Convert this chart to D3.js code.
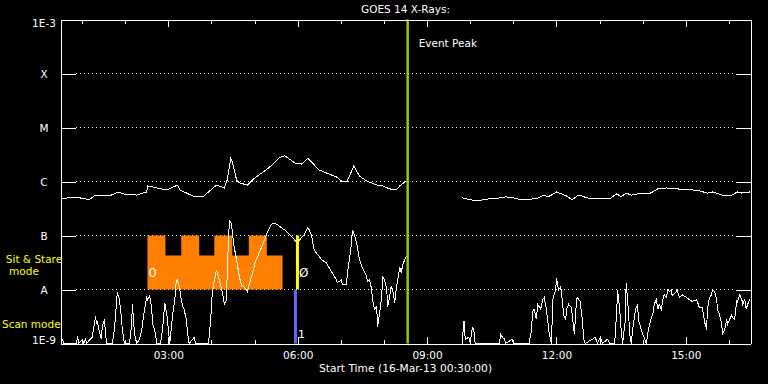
<!DOCTYPE html>
<html>
<head>
<meta charset="utf-8">
<script src="https://cdn.jsdelivr.net/npm/d3@7"></script>
<style>
    html, body { margin: 0; background: #000; }
    svg { display: block; font-family: "DejaVu Sans", sans-serif; }
</style>
</head>
<body>
<svg id="chart" width="768" height="384"></svg>
<script>
/* ── Data ─────────────────────────────────────────── */
const titleText  = "GOES 14 X-Rays:";
const axisTitle  = "Start Time (16-Mar-13 00:30:00)";
const timeDomain = ["00:30", "16:30"];

const levelTicks  = [1e-3, 1e-4, 1e-5, 1e-6, 1e-7, 1e-8, 1e-9];
const levelLabels = ["1E-3", "X", "M", "C", "B", "A", "1E-9"];
const gridLevels  = [1e-4, 1e-5, 1e-6, 1e-7, 1e-8];

// 1-8 Å channel (W/m²), null marks the data gap
const longChannel = [
    ["00:31",4.8e-7],["00:42",5.0e-7],["00:56",5.0e-7],["01:10",4.6e-7],["01:17",5.4e-7],["01:38",5.4e-7],
    ["01:51",6.4e-7],["01:56",5.9e-7],["02:16",5.6e-7],["02:30",6.4e-7],["02:31",8.3e-7],["02:44",7.6e-7],
    ["02:58",7.0e-7],["03:13",8.6e-7],["03:16",7.0e-7],["03:34",5.4e-7],["03:48",5.2e-7],["04:07",8.6e-7],
    ["04:18",7.6e-7],["04:22",1.07e-6],["04:27",2.7e-6],["04:29",2.3e-6],["04:35",1.07e-6],["04:39",9.4e-7],
    ["04:50",8.6e-7],["04:57",1.07e-6],["05:21",1.85e-6],["05:35",2.8e-6],["05:42",3.0e-6],["05:56",2.2e-6],
    ["06:05",2.1e-6],["06:09",2.3e-6],["06:14",2.7e-6],["06:19",2.3e-6],["06:30",1.63e-6],["06:40",1.44e-6],
    ["06:54",1.21e-6],["07:01",1.02e-6],["07:09",1.02e-6],["07:18",1.93e-6],["07:26",1.26e-6],["07:36",1.02e-6],
    ["07:50",8.6e-7],["07:58",8.3e-7],["08:08",7.3e-7],["08:17",7.0e-7],["08:22",8.3e-7],["08:29",9.8e-7],
    ["08:33",1.02e-6],
    ["09:00",null],
    ["09:49",5.0e-7],["09:59",4.6e-7],["10:10",4.4e-7],["10:27",4.8e-7],["10:44",5.0e-7],["10:50",5.2e-7],
    ["10:59",5.0e-7],["11:11",4.6e-7],["11:32",4.8e-7],["11:43",5.6e-7],["11:48",5.2e-7],["11:53",5.6e-7],
    ["12:00",6.4e-7],["12:07",5.9e-7],["12:14",5.4e-7],["12:22",4.6e-7],["12:29",5.4e-7],["12:32",5.6e-7],
    ["12:42",5.0e-7],["12:50",4.8e-7],["13:00",4.8e-7],["13:14",4.8e-7],["13:24",5.9e-7],["13:30",5.2e-7],
    ["13:37",6.1e-7],["13:44",5.6e-7],["13:53",5.9e-7],["14:09",5.9e-7],["14:21",7.3e-7],["14:33",7.6e-7],
    ["14:47",7.3e-7],["15:09",7.0e-7],["15:19",6.7e-7],["15:30",6.1e-7],["15:37",6.4e-7],["15:51",5.6e-7],
    ["16:04",5.6e-7],["16:12",6.4e-7],["16:18",6.1e-7],["16:29",6.4e-7]
];

// 0.5-4 Å channel (W/m²)
const shortChannel = [
    ["00:31",1.0e-9],["00:33",1.2e-9],["00:34",1.0e-9],["00:52",1.0e-9],["00:54",1.4e-9],["00:55",1.0e-9],
    ["01:01",1.2e-9],["01:02",1.0e-9],["01:05",1.2e-9],["01:06",1.0e-9],["01:14",1.3e-9],["01:19",3.2e-9],
    ["01:20",2.3e-9],["01:21",2.6e-9],["01:24",1.7e-9],["01:27",1.2e-9],["01:28",2.0e-9],["01:31",2.8e-9],
    ["01:34",1.0e-9],["01:42",1.0e-9],["01:45",1.8e-9],["01:49",8.8e-9],["01:52",6.5e-9],["01:55",2.8e-9],
    ["01:56",1.8e-9],["01:59",1.0e-9],["02:06",1.0e-9],["02:09",2.3e-9],["02:10",5.3e-9],["02:13",1.5e-9],
    ["02:16",1.0e-9],["02:20",1.2e-9],["02:23",1.8e-9],["02:27",4.3e-9],["02:30",7.4e-9],["02:31",6.5e-9],
    ["02:34",7.7e-9],["02:37",4.3e-9],["02:38",2.3e-9],["02:41",1.8e-9],["02:44",1.0e-9],["02:49",1.0e-9],
    ["02:52",1.8e-9],["02:55",5.7e-9],["02:58",3.4e-9],["03:02",1.0e-9],["03:06",3.4e-9],["03:09",6.5e-9],
    ["03:11",1.4e-8],["03:13",1.5e-8],["03:16",9.9e-9],["03:18",6.5e-9],["03:20",4.8e-9],["03:22",4.3e-9],
    ["03:25",2.8e-9],["03:27",1.5e-9],["03:29",1.0e-9],["03:36",1.3e-9],["03:38",1.0e-9],["03:56",1.0e-9],
    ["03:59",2.8e-9],["04:01",8.0e-9],["04:04",1.5e-8],["04:07",2.3e-8],["04:11",1.5e-8],["04:15",9.1e-9],
    ["04:18",5.3e-9],["04:21",6.5e-9],["04:22",2.3e-8],["04:25",1.95e-7],["04:28",1.6e-7],["04:31",6.7e-8],
    ["04:35",3.6e-8],["04:39",1.66e-8],["04:42",1.2e-8],["04:46",1.1e-8],["04:50",9.1e-9],["04:53",1.3e-8],
    ["04:57",2.0e-8],["05:01",3.3e-8],["05:04",4.0e-8],["05:10",6.2e-8],["05:14",8.3e-8],["05:18",1.17e-7],
    ["05:22",1.5e-7],["05:25",1.7e-7],["05:29",1.65e-7],["05:32",1.57e-7],["05:37",1.4e-7],["05:42",1.27e-7],
    ["05:46",1.12e-7],["05:53",9.1e-8],["05:58",7.6e-8],["06:03",8.3e-8],["06:05",9.1e-8],["06:09",1.03e-7],
    ["06:14",1.4e-7],["06:16",1.27e-7],["06:19",1.03e-7],["06:23",5.4e-8],["06:28",4.4e-8],["06:33",3.6e-8],
    ["06:37",3.3e-8],["06:40",3.1e-8],["06:44",2.5e-8],["06:48",2.05e-8],["06:54",1.5e-8],["06:55",1.34e-8],
    ["07:01",1.5e-8],["07:02",1.23e-8],["07:08",1.23e-8],["07:09",1.9e-8],["07:12",3.6e-8],["07:15",7.3e-8],
    ["07:16",1.27e-7],["07:19",1.03e-7],["07:23",6.2e-8],["07:26",3.6e-8],["07:30",2.5e-8],["07:36",1.73e-8],
    ["07:37",1.4e-8],["07:40",1.5e-8],["07:43",9.9e-9],["07:44",6.5e-9],["07:47",4.3e-9],["07:50",4.8e-9],
    ["07:51",2.0e-9],["07:54",3.7e-9],["07:57",7.4e-9],["07:58",1.73e-8],["08:01",1.5e-8],["08:04",9.9e-9],
    ["08:05",4.8e-9],["08:08",7.4e-9],["08:10",1.13e-8],["08:12",9.9e-9],["08:15",5.7e-9],["08:17",9.9e-9],
    ["08:22",2.6e-8],["08:24",2.05e-8],["08:26",2.8e-8],["08:29",3.6e-8],["08:31",4.0e-8],["08:33",4.4e-8],
    ["09:00",null],
    ["09:49",1.0e-9],["09:51",2.55e-9],["09:52",2.55e-9],["09:53",1.2e-9],["09:58",1.3e-9],["09:59",1.2e-9],
    ["10:00",1.0e-9],["10:03",2.0e-9],["10:05",1.8e-9],["10:07",1.0e-9],["10:41",1.0e-9],["10:42",1.5e-9],
    ["10:45",1.3e-9],["10:48",1.2e-9],["10:49",1.0e-9],["10:59",1.2e-9],["11:00",1.0e-9],["11:22",1.0e-9],
    ["11:25",1.7e-9],["11:27",3.9e-9],["11:29",4.3e-9],["11:32",2.8e-9],["11:34",5.3e-9],["11:38",4.3e-9],
    ["11:41",6.5e-9],["11:43",7.1e-9],["11:46",4.3e-9],["11:48",2.55e-9],["11:50",1.5e-9],["11:53",1.0e-9],
    ["11:55",6.5e-9],["11:56",7.4e-9],["11:59",9.9e-9],["12:00",1.6e-8],["12:03",9.9e-9],["12:06",1.13e-8],
    ["12:08",6.5e-9],["12:10",3.4e-9],["12:13",2.8e-9],["12:14",4.3e-9],["12:17",5.3e-9],["12:21",4.6e-9],
    ["12:22",3.4e-9],["12:25",1.5e-9],["12:28",6.5e-9],["12:29",7.1e-9],["12:33",6.0e-9],["12:36",2.8e-9],
    ["12:38",1.2e-9],["12:40",1.0e-9],["12:50",1.2e-9],["12:54",1.3e-9],["12:57",1.0e-9],["13:01",1.3e-9],
    ["13:04",1.0e-9],["13:11",1.2e-9],["13:14",1.0e-9],["13:21",1.0e-9],["13:24",4.3e-9],["13:25",9.9e-9],
    ["13:28",4.3e-9],["13:30",1.8e-9],["13:32",1.0e-9],["13:36",2.8e-9],["13:37",1.34e-8],["13:40",4.3e-9],
    ["13:42",1.5e-9],["13:44",1.0e-9],["13:46",1.8e-9],["13:50",4.3e-9],["13:53",5.3e-9],["13:54",2.8e-9],
    ["13:58",1.8e-9],["14:00",1.5e-9],["14:02",1.3e-9],["14:05",1.0e-9],["14:08",1.8e-9],["14:12",3.0e-9],
    ["14:14",3.4e-9],["14:16",5.3e-9],["14:19",6.5e-9],["14:21",4.3e-9],["14:23",5.3e-9],["14:26",4.3e-9],
    ["14:28",6.5e-9],["14:30",8.0e-9],["14:33",7.1e-9],["14:35",9.9e-9],["14:37",9.1e-9],["14:40",9.9e-9],
    ["14:41",7.7e-9],["14:47",9.1e-9],["14:48",9.9e-9],["14:51",7.1e-9],["14:55",8.0e-9],["15:01",7.1e-9],
    ["15:05",6.5e-9],["15:09",6.0e-9],["15:15",6.5e-9],["15:19",4.6e-9],["15:23",4.6e-9],["15:26",2.55e-9],
    ["15:29",1.8e-9],["15:30",4.3e-9],["15:33",7.1e-9],["15:36",8.0e-9],["15:37",9.9e-9],["15:40",9.1e-9],
    ["15:43",6.5e-9],["15:44",4.3e-9],["15:47",3.4e-9],["15:50",2.25e-9],["15:51",1.5e-9],["15:54",1.8e-9],
    ["15:57",2.8e-9],["15:58",2.25e-9],["16:01",2.8e-9],["16:04",3.4e-9],["16:05",3.0e-9],["16:08",2.8e-9],
    ["16:11",6.5e-9],["16:12",6.0e-9],["16:15",8.0e-9],["16:18",6.5e-9],["16:19",5.3e-9],["16:22",6.5e-9],
    ["16:24",4.3e-9],["16:26",5.3e-9],["16:29",6.5e-9]
];

const eventPeak  = "08:33";
const stareSpan  = ["02:31", "05:39"];
const stareTabs  = [["02:31","02:56"], ["03:18","03:43"], ["04:04","04:29"], ["04:52","05:17"]];
const modeSwitch = "05:59";

/* ── Setup ────────────────────────────────────────── */
const parseTime = d3.timeParse("%H:%M");
const svg = d3.select("#chart");

const plotLeft = 60.5, plotRight = 750.5, plotTop = 19.5, plotBottom = 343.5;

const x = d3.scaleTime()
    .domain(timeDomain.map(parseTime))
    .range([plotLeft, plotRight]);

const y = d3.scaleLog()
    .domain([1e-9, 1e-3])
    .range([plotBottom, plotTop])
    .clamp(true);

const hours      = d3.timeHour.range(x.domain()[0], x.domain()[1]);
const majorHours = hours.filter(d => d.getHours() % 3 === 0);
const minorHours = hours.filter(d => d.getHours() % 3 !== 0);

/* ── Gridlines ────────────────────────────────────── */
svg.append("g")
    .selectAll("line")
    .data(gridLevels).join("line")
    .attr("x1", plotLeft + 15).attr("x2", plotRight - 15)
    .attr("y1", d => y(d)).attr("y2", d => y(d))
    .attr("stroke", "#fff")
    .attr("stroke-dasharray", "1 3")
    .attr("shape-rendering", "crispEdges");

/* ── Sit & Stare block + mode switch ──────────────── */
const bandTop = y(1e-7), bandBottom = y(1e-8);
const tabH = (bandBottom - bandTop) * 0.37;
const orange = "#ff8000";

svg.append("rect")
    .attr("x", x(parseTime(stareSpan[0])))
    .attr("y", bandTop + tabH)
    .attr("width", x(parseTime(stareSpan[1])) - x(parseTime(stareSpan[0])))
    .attr("height", bandBottom - bandTop - tabH)
    .attr("fill", orange);

svg.append("g")
    .selectAll("rect")
    .data(stareTabs).join("rect")
    .attr("x", d => x(parseTime(d[0])))
    .attr("y", bandTop)
    .attr("width", d => x(parseTime(d[1])) - x(parseTime(d[0])))
    .attr("height", tabH + 0.5)
    .attr("fill", orange);

const sx = x(parseTime(modeSwitch));
svg.append("rect")
    .attr("x", sx - 1).attr("y", bandTop)
    .attr("width", 3).attr("height", bandBottom - bandTop)
    .attr("fill", "#ffff00");
svg.append("rect")
    .attr("x", sx - 3).attr("y", bandBottom)
    .attr("width", 3).attr("height", plotBottom - bandBottom)
    .attr("fill", "#6464ff");

svg.append("text")
    .attr("x", x(parseTime(stareSpan[0])) + 1).attr("y", 277)
    .attr("fill", "#fff").attr("font-size", 13)
    .text("0");
svg.append("text")
    .attr("x", sx + 2).attr("y", 277)
    .attr("fill", "#fff").attr("font-size", 12)
    .text("Ø");
svg.append("text")
    .attr("x", sx + 1).attr("y", 338)
    .attr("fill", "#fff").attr("font-size", 11)
    .text("1");

/* ── Curves ───────────────────────────────────────── */
const line = d3.line()
    .defined(d => d[1] != null)
    .x(d => x(parseTime(d[0])))
    .y(d => y(d[1]));

svg.append("g")
    .selectAll("path")
    .data([longChannel, shortChannel]).join("path")
    .attr("d", line)
    .attr("fill", "none")
    .attr("stroke", "#fff")
    .attr("stroke-width", 1)
    .attr("shape-rendering", "crispEdges");

/* ── Event peak ───────────────────────────────────── */
const px = x(parseTime(eventPeak));
svg.append("line")
    .attr("x1", px).attr("x2", px)
    .attr("y1", plotTop).attr("y2", plotBottom)
    .attr("stroke", "#99cc00")
    .attr("stroke-width", 2.5);
svg.append("text")
    .attr("x", px + 11).attr("y", 47)
    .attr("fill", "#fff").attr("font-size", 10.5)
    .text("Event Peak");

/* ── Axes ─────────────────────────────────────────── */
function styleAxis(g) {
    g.attr("color", "#fff")
     .attr("shape-rendering", "crispEdges")
     .attr("font-family", "DejaVu Sans, sans-serif")
     .attr("font-size", 10.5);
}

// bottom: minor + labelled major ticks
svg.append("g")
    .attr("transform", `translate(0,${plotBottom})`)
    .call(d3.axisBottom(x).tickValues(minorHours).tickSizeInner(-4).tickSizeOuter(0).tickFormat(""))
    .call(styleAxis);
svg.append("g")
    .attr("transform", `translate(0,${plotBottom})`)
    .call(d3.axisBottom(x).tickValues(majorHours).tickSizeInner(-7).tickSizeOuter(0)
        .tickPadding(8).tickFormat(d3.timeFormat("%H:%M")))
    .call(styleAxis);

// top
svg.append("g")
    .attr("transform", `translate(0,${plotTop})`)
    .call(d3.axisTop(x).tickValues(minorHours).tickSizeInner(-4).tickSizeOuter(0).tickFormat(""))
    .call(styleAxis);
svg.append("g")
    .attr("transform", `translate(0,${plotTop})`)
    .call(d3.axisTop(x).tickValues(majorHours).tickSizeInner(-7).tickSizeOuter(0).tickFormat(""))
    .call(styleAxis);

// left + right
svg.append("g")
    .attr("transform", `translate(${plotLeft},0)`)
    .call(d3.axisLeft(y).tickValues(levelTicks).tickSizeInner(-15).tickSizeOuter(0).tickFormat(""))
    .call(styleAxis);
svg.append("g")
    .attr("transform", `translate(${plotRight},0)`)
    .call(d3.axisRight(y).tickValues(levelTicks).tickSizeInner(-15).tickSizeOuter(0).tickFormat(""))
    .call(styleAxis);

// level labels, centred and kept inside the frame
svg.append("g")
    .selectAll("text")
    .data(levelTicks).join("text")
    .attr("x", 44)
    .attr("y", d => Math.min(Math.max(y(d) + 4, plotTop + 7.5), plotBottom + 0.5))
    .attr("text-anchor", "middle")
    .attr("fill", "#fff")
    .attr("font-size", 10.5)
    .text((d, i) => levelLabels[i]);

/* ── Titles + mode legend ─────────────────────────── */
svg.append("text")
    .attr("x", (plotLeft + plotRight) / 2).attr("y", 13)
    .attr("text-anchor", "middle")
    .attr("fill", "#fff").attr("font-size", 10.5)
    .text(titleText);

svg.append("text")
    .attr("x", (plotLeft + plotRight) / 2).attr("y", 372)
    .attr("text-anchor", "middle")
    .attr("fill", "#fff").attr("font-size", 10.7)
    .text(axisTitle);

const legend = svg.append("g")
    .attr("fill", "#ffff00")
    .attr("font-size", 10.5);
legend.append("text").attr("x", 34).attr("y", 263).attr("text-anchor", "middle").text("Sit & Stare");
legend.append("text").attr("x", 24).attr("y", 275).attr("text-anchor", "middle").text("mode");
legend.append("text").attr("x", 2).attr("y", 328).text("Scan mode");
</script>
</body>
</html>
